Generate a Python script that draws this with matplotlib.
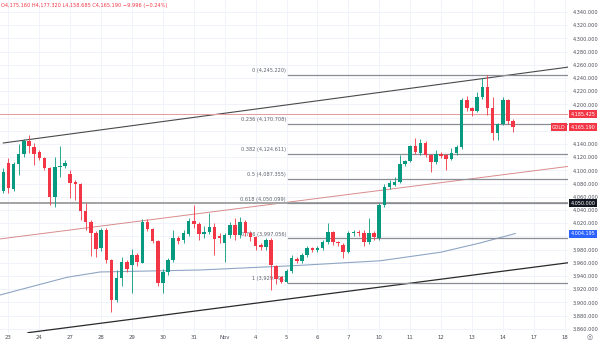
import matplotlib.pyplot as plt
import matplotlib.transforms as mtransforms
import numpy as np

# 4h gold candles, Oct 22 -> Nov 14 (index = candle number)
opens = [4069, 4111, 4072, 4110, 4125, 4144, 4135, 4128, 4119, 4103,
         4060, 4105, 4107, 4094, 4082, 4079, 4038, 4022, 4005, 3982,
         4010, 3964, 3903, 3937, 3961, 3957, 3972, 3960, 4022, 4011,
         3993, 3929, 3946, 3964, 3997, 3994, 4004, 4023, 4019, 4003,
         4006, 4014, 4000, 3990, 4002, 4017, 4002, 4022, 4005, 3999,
         3987, 3984, 3994, 3955, 3938, 3931, 3948, 3966, 3963, 3971,
         3982, 3979, 3982, 3991, 4006, 3991, 3987, 3976, 4005, 4007,
         4005, 3991, 4005, 3997, 4047, 4075, 4078, 4082, 4110, 4114,
         4137, 4127, 4141, 4123, 4113, 4125, 4123, 4117, 4126, 4135,
         4206, 4194, 4190, 4211, 4226, 4194, 4157, 4170, 4206, 4175.16]
highs = [4104, 4118, 4113, 4140, 4148, 4153, 4141, 4131, 4121, 4105,
         4120, 4137, 4116, 4100, 4085, 4081, 4050, 4025, 4008, 4013,
         4013, 3966, 3949, 3969, 3964, 3981, 3975, 4026, 4026, 4013,
         3995, 3950, 3967, 4010, 4000, 4010, 4028, 4047, 4022, 4016,
         4035, 4020, 4005, 4005, 4022, 4028, 4030, 4025, 4008, 4001,
         3990, 3997, 3997, 3957, 3940, 3950, 3971, 3968, 3975, 3986,
         3984, 3985, 3995, 4020, 4008, 3993, 3990, 4008, 4010, 4010,
         4010, 4028, 4008, 4050, 4079, 4085, 4090, 4123, 4116, 4139,
         4149, 4147, 4144, 4125, 4131, 4128, 4125, 4134, 4138, 4210,
         4213, 4196, 4219, 4240, 4245.22, 4211, 4172, 4211, 4208, 4177.32]
lows = [4066, 4065, 4068, 4093, 4121, 4126, 4108, 4116, 4100, 4047,
        4044, 4090, 4103, 4058, 4055, 4025, 4010, 3970, 3969, 3978,
        3960, 3885, 3900, 3925, 3946, 3914, 3955, 3959, 4008, 3990,
        3925, 3914, 3942, 3961, 3988, 3990, 4000, 4013, 3995, 3998,
        4003, 3972, 3990, 3961, 3998, 3995, 3998, 4000, 3993, 3980,
        3980, 3980, 3919, 3928, 3929.49, 3930, 3945, 3960, 3960, 3968,
        3976, 3976, 3979, 3989, 3987, 3985, 3967, 3974, 4000, 4000,
        3985, 3988, 3995, 3994, 4044, 4072, 4076, 4081, 4106, 4112,
        4125, 4123, 4120, 4097, 4110, 4118, 4100, 4115, 4124, 4133,
        4190, 4182, 4188, 4208, 4184, 4146, 4146, 4168, 4170, 4158.685]
closes = [4097, 4073, 4110, 4125, 4144, 4137, 4125, 4119, 4103, 4060,
          4105, 4106, 4111, 4081, 4079, 4038, 4022, 4005, 3981, 4010,
          3964, 3903, 3937, 3961, 3951, 3972, 3961, 4022, 4011, 3993,
          3929, 3946, 3964, 3997, 3993, 4005, 4023, 4019, 4003, 4006,
          4014, 3996, 3997, 4002, 4017, 4002, 4022, 4005, 3999, 3985,
          3984, 3994, 3957, 3935, 3931, 3948, 3967, 3963, 3971, 3982,
          3979, 3982, 3991, 4006, 3991, 3990, 3976, 4005, 4007, 4005,
          3991, 4005, 3999, 4047, 4075, 4081, 4082, 4110, 4114, 4137,
          4128, 4141, 4123, 4113, 4125, 4122, 4117, 4126, 4135, 4206,
          4194, 4190, 4211, 4226, 4194, 4157, 4170, 4206, 4175, 4165.19]

day_labels = ["23", "24", "27", "28", "29", "30", "31", "Nov", "4", "5",
              "6", "7", "10", "11", "12", "13", "14", "17", "18"]
day_start = [1 + 6 * k for k in range(len(day_labels))]

# moving average, read at a few candles
ma_idx = [-0.7, 12.4, 18.8, 38.2, 57.6, 73.2, 85.0, 92.6, 99.4]
ma_val = [3911, 3938, 3946, 3949, 3956, 3963, 3976, 3990, 4004.195]

fib_levels = [0, 0.236, 0.382, 0.5, 0.618, 0.786, 1]
fib_prices = [4245.220, 4170.708, 4124.611, 4087.355, 4050.099, 3997.056, 3929.491]
fib_start = 55.2

upper_line = ([0.0, 109.7], [4141.5, 4256.5])
mid_line = ([-0.7, 109.7], [3996, 4106])
lower_line = ([4.8, 109.7], [3854, 3960])

# right scale labels hidden behind the price tags
hidden_ticks = [4180, 4160, 4000]

GREEN = "#089981"
RED = "#f23645"
XMIN, XMAX = -0.64, 109.65
YMIN, YMAX = 3853.5, 4358.2

fig = plt.figure(figsize=(6, 3.47), dpi=100)
ax = fig.add_axes([0, 14 / 347, 568 / 600, 333 / 347])
ax.set_xlim(XMIN, XMAX)
ax.set_ylim(YMIN, YMAX)
for s in ax.spines.values():
    s.set_visible(False)

# grid
yt = np.arange(3860, 4341, 20)
for y in yt:
    ax.axhline(y, color="#f0f3fa", lw=0.7, zorder=0)
for x in day_start:
    ax.axvline(x, color="#f0f3fa", lw=0.7, zorder=0)

# drawings
ax.plot(*upper_line, color="#4a4a4a", lw=0.8, zorder=1)
ax.plot(*mid_line, color="#d98c8c", lw=0.7, zorder=1)
ax.plot(*lower_line, color="#2a2a2a", lw=0.9, zorder=1)
ax.plot(ma_idx, ma_val, color="#8fa6c4", lw=0.8, zorder=1)
ax.axhline(4185.425, color="#e89a9f", lw=0.7, zorder=1)
ax.axhline(4050.0, color="#a3a3a3", lw=1.4, zorder=1)

for lvl, pr in zip(fib_levels, fib_prices):
    ax.plot([fib_start, XMAX], [pr, pr], color="#8a8d95", lw=0.9, zorder=1)
    ax.text(fib_start - 0.3, pr + 2.5, "%g (%s)" % (lvl, format(pr, ",.3f")),
            ha="right", va="bottom", fontsize=3.6, color="#5d606b", zorder=2)

# candles
idx = np.arange(len(opens))
o = np.array(opens)
c = np.array(closes)
cols = [GREEN if cc >= oo else RED for oo, cc in zip(o, c)]
ax.vlines(idx, lows, highs, colors=cols, lw=0.6, zorder=3)
body = np.maximum(np.abs(c - o), 1.2)
ax.bar(idx, body, bottom=np.minimum(o, c), width=0.68, color=cols, zorder=4, linewidth=0)

# axes ticks
ax.yaxis.tick_right()
ax.set_yticks(yt)
ax.set_yticklabels(["" if v in hidden_ticks else format(v, ",.3f") for v in yt])
ax.tick_params(axis="y", length=0, pad=3.2, labelsize=3.6, labelcolor="#4a4d57")
ax.set_xticks(day_start)
ax.set_xticklabels(day_labels)
ax.tick_params(axis="x", length=0, pad=1.5, labelsize=3.9, labelcolor="#4a4d57")

# price tags
tr = mtransforms.blended_transform_factory(ax.transAxes, ax.transData)
def tag(price, text, color):
    ax.text(1.0045, price, text, transform=tr, ha="left", va="center", fontsize=3.5,
            color="white", clip_on=False, zorder=6,
            bbox=dict(boxstyle="square,pad=0.3", fc=color, ec="none"))

tag(4185.425, "4,185.425", RED)
tag(4165.190, "4,165.190", RED)
tag(4050.000, "4,050.000", "#131722")
tag(4004.195, "4,004.195", "#2962ff")
ax.text(0.996, 4165.19, "GOLD", transform=tr, ha="right", va="center", fontsize=3.4,
        color="white", zorder=6,
        bbox=dict(boxstyle="square,pad=0.3", fc=RED, ec="none"))

fig.text(0.002, 1 - 6 / 347, "O4,175.160 H4,177.320 L4,158.685 C4,165.190 \u22129.996 (\u22120.24%)",
         ha="left", va="center", fontsize=3.6, color=RED)
fig.text(590 / 600, 10 / 347, "\u25ce", ha="center", va="center", fontsize=5, color="#6a6d78")

fig.savefig("out.png", dpi=100)
